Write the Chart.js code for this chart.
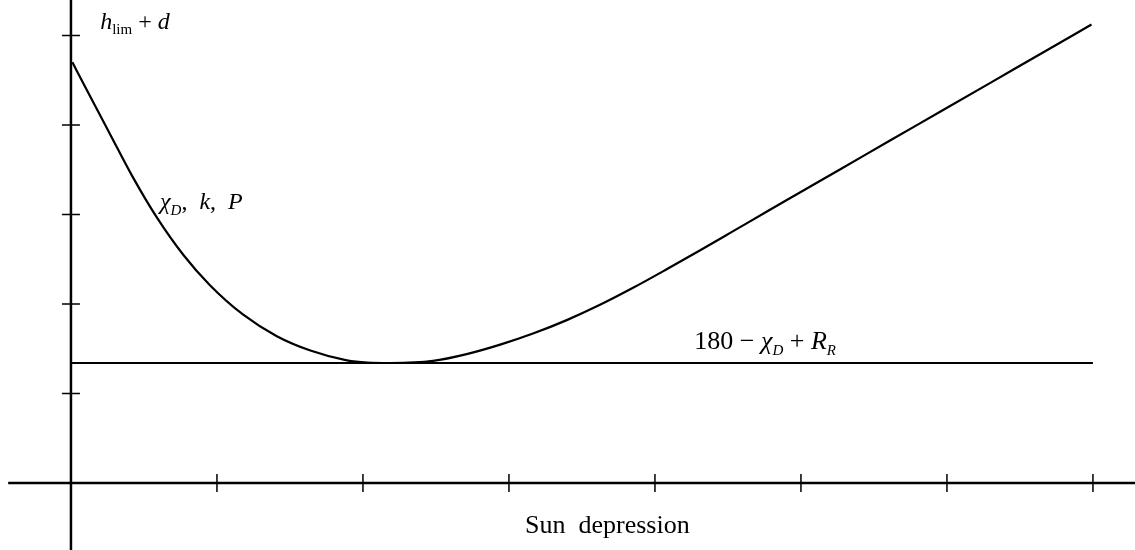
<!DOCTYPE html>
<html>
<head>
<meta charset="utf-8">
<script src="https://cdn.jsdelivr.net/npm/chart.js@4/dist/chart.umd.min.js"></script>
<style>
    html, body { margin: 0; padding: 0; background: #fff; }
    #wrap { width: 1135px; height: 550px; }
</style>
</head>
<body>
<div id="wrap"><canvas id="sunChart" width="1135" height="550"></canvas></div>
<script>
// values in tick units (one x tick = 1, one y tick = 1)
const depression = [0.01, 0.096, 0.267, 0.416, 0.587, 0.769, 0.952, 1.18, 1.41, 1.64, 1.89, 2.03, 2.19, 2.48, 2.71, 2.94, 3.16, 3.40, 3.62, 3.85, 4.08, 4.31, 4.53, 4.77, 4.99, 5.27, 5.61, 5.95, 6.30, 6.64, 6.99];
const heightLimit = [4.70, 4.43, 3.90, 3.44, 2.97, 2.55, 2.21, 1.88, 1.64, 1.48, 1.37, 1.345, 1.34, 1.363, 1.439, 1.545, 1.666, 1.822, 1.987, 2.18, 2.387, 2.60, 2.808, 3.036, 3.243, 3.506, 3.826, 4.145, 4.474, 4.794, 5.123];
const baseLevel = 1.34;
const baseRange = [0, 7];
const xTicks = [1, 2, 3, 4, 5, 6, 7];
const yTicks = [1, 2, 3, 4, 5];

const serif = '"Liberation Serif", "DejaVu Serif", serif';

// draws a formula made of runs: [text, italic, size, drop]
function drawRuns(ctx, runs, x, y) {
    let cx = x;
    runs.forEach(([txt, italic, size, drop]) => {
        ctx.font = `${italic ? "italic " : ""}${size}px ${serif}`;
        ctx.fillText(txt, cx, y + (drop || 0));
        cx += ctx.measureText(txt).width;
    });
}

const axesPlugin = {
    id: "axes",
    beforeDatasetsDraw(chart) {
        const { ctx, scales: { x, y } } = chart;
        const x0 = x.getPixelForValue(0);
        const y0 = y.getPixelForValue(0);
        ctx.save();
        ctx.strokeStyle = "#000";
        ctx.lineWidth = 2.5;
        ctx.beginPath();
        ctx.moveTo(x0, 0);
        ctx.lineTo(x0, chart.height);
        ctx.moveTo(x.getPixelForValue(-0.43), y0);
        ctx.lineTo(chart.width, y0);
        ctx.stroke();
        ctx.lineWidth = 1.5;
        ctx.beginPath();
        xTicks.forEach(v => {
            const px = x.getPixelForValue(v);
            ctx.moveTo(px, y0 - 9);
            ctx.lineTo(px, y0 + 9);
        });
        yTicks.forEach(v => {
            const py = y.getPixelForValue(v);
            ctx.moveTo(x0 - 9, py);
            ctx.lineTo(x0 + 9, py);
        });
        ctx.stroke();
        ctx.restore();
    },
    afterDatasetsDraw(chart) {
        const { ctx, scales: { x, y } } = chart;
        ctx.save();
        ctx.fillStyle = "#000";
        ctx.textBaseline = "alphabetic";
        drawRuns(ctx, [["h", true, 24], ["lim", false, 15, 5], [" + ", false, 24], ["d", true, 24]],
            x.getPixelForValue(0.2), y.getPixelForValue(5.07));
        drawRuns(ctx, [["\u03c7", true, 24], ["D", true, 15, 6], [",\u2002", false, 24], ["k", true, 24], [",\u2002", false, 24], ["P", true, 24]],
            x.getPixelForValue(0.61), y.getPixelForValue(3.06));
        drawRuns(ctx, [["180", false, 26], [" \u2212 ", false, 26], ["\u03c7", true, 26], ["D", true, 15, 6], [" + ", false, 26], ["R", true, 26], ["R", true, 15, 6]],
            x.getPixelForValue(4.27), y.getPixelForValue(1.495));
        ctx.font = `26px ${serif}`;
        ctx.fillText("Sun  depression", x.getPixelForValue(3.11), y.getPixelForValue(-0.56));
        ctx.restore();
    }
};

document.addEventListener("DOMContentLoaded", () => {
    const ctx = document.getElementById("sunChart").getContext("2d");
    new Chart(ctx, {
        type: "scatter",
        data: {
            datasets: [{
                data: depression.map((v, i) => ({ x: v, y: heightLimit[i] })),
                showLine: true,
                borderColor: "#000",
                borderWidth: 2.2,
                pointRadius: 0,
                cubicInterpolationMode: "monotone"
            }, {
                data: baseRange.map(v => ({ x: v, y: baseLevel })),
                showLine: true,
                borderColor: "#000",
                borderWidth: 2,
                pointRadius: 0
            }]
        },
        options: {
            responsive: false,
            devicePixelRatio: 1,
            animation: false,
            layout: { padding: 0 },
            plugins: { legend: { display: false }, tooltip: { enabled: false } },
            scales: {
                x: { type: "linear", min: -0.486, max: 7.288, display: false },
                y: { type: "linear", min: -0.75, max: 5.397, display: false }
            }
        },
        plugins: [axesPlugin]
    });
});
</script>
</body>
</html>
